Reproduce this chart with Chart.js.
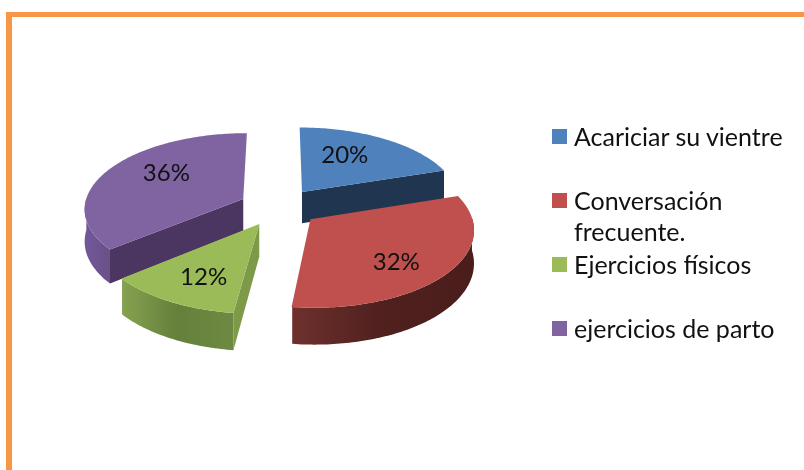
<!DOCTYPE html>
<html>
<head>
<meta charset="utf-8">
<style>
    body { margin: 0; background: #fff; font-family: Lato, sans-serif; }
    #wrap { position: relative; width: 804px; height: 470px; overflow: hidden; }
    #frame { position: absolute; left: 6px; top: 12px; right: -10px; bottom: -10px; border-top: 5px solid #F79646; border-left: 6px solid #F79646; }
    canvas { position: absolute; left: 0; top: 0; }
    .key { position: absolute; left: 552px; width: 15px; height: 15px; }
    .txt { position: absolute; left: 574px; font-size: 25px; line-height: 31px; color: #111; white-space: pre; }
</style>
<script src="https://cdn.jsdelivr.net/npm/chart.js@4"></script>
</head>
<body>
<div id="wrap">
    <div id="frame"></div>
    <canvas id="pie" width="804" height="470"></canvas>
    <div id="legend"></div>
</div>
<script>
// ---- Data ----
const categories = ['Acariciar su vientre', 'Conversación\nfrecuente.', 'Ejercicios físicos', 'ejercicios de parto'];
const percents = [20, 32, 12, 36];

// ---- Colours ----
const topColors = ['#4F81BD', '#C0504D', '#9BBB59', '#8064A2'];
const faceColors = ['#1F3550', '#4D1F1D', '#7C9A48', '#4A3660'];
const wallStops = [
    ['#2A4363', '#2A4363'],
    ['#6E302D', '#4F201E', '#4A1D1B'],
    ['#86A24F', '#64803A', '#6E8A42'],
    ['#72589A', '#6A5088']
];
const legendTops = [129, 193, 257, 321];

// ---- 3D look ----
const explode = 40;
const squash = 0.473;
const perspective = 0.115;
const depth = 32;
const drawOrder = [0, 3, 2, 1];
const labelShift = [[-8, -4], [6, 12], [-4, 9], [5, -8]];

function project(arc, gx, gy, drop) {
    const s = 1 / (1 - perspective * gy / arc.outerRadius);
    return { x: arc.x + gx * s, y: arc.y + gy * squash * s + (drop || 0) * s };
}

function tracePoly(ctx, pts) {
    ctx.beginPath();
    pts.forEach((p, i) => i ? ctx.lineTo(p.x, p.y) : ctx.moveTo(p.x, p.y));
    ctx.closePath();
}

function drawSlice(ctx, arc, i) {
    const mid = (arc.startAngle + arc.endAngle) / 2;
    const ax = Math.cos(mid) * explode;
    const ay = Math.sin(mid) * explode;
    const r = arc.outerRadius;
    const rim = (a, drop) => project(arc, ax + Math.cos(a) * r, ay + Math.sin(a) * r, drop);
    const apex = drop => project(arc, ax, ay, drop);

    // cut faces that look at the viewer
    [[arc.startAngle, -1], [arc.endAngle, 1]].forEach(([a, side]) => {
        if (Math.cos(a) * side > 0.001) {
            tracePoly(ctx, [apex(0), rim(a, 0), rim(a, depth), apex(depth)]);
            ctx.fillStyle = faceColors[i];
            ctx.fill();
        }
    });

    // outer wall, only the front half of the rim
    const upper = [], lower = [];
    for (let a = arc.startAngle; a <= arc.endAngle + 0.0001; a += Math.PI / 180) {
        if (Math.sin(a) >= -0.02) {
            upper.push(rim(a, 0));
            lower.unshift(rim(a, depth));
        }
    }
    if (upper.length > 1) {
        const xs = upper.map(p => p.x);
        const grad = ctx.createLinearGradient(Math.min(...xs), 0, Math.max(...xs), 0);
        wallStops[i].forEach((c, n) => grad.addColorStop(n / (wallStops[i].length - 1), c));
        tracePoly(ctx, upper.concat(lower));
        ctx.fillStyle = grad;
        ctx.fill();
    }

    // top surface
    const top = [apex(0)];
    for (let a = arc.startAngle; a < arc.endAngle; a += Math.PI / 180) top.push(rim(a, 0));
    top.push(rim(arc.endAngle, 0));
    tracePoly(ctx, top);
    ctx.fillStyle = topColors[i];
    ctx.fill();
}

// ---- Plugin: the library computes the arcs, this paints them in 3D ----
const pie3d = {
    id: 'pie3d',
    beforeDatasetsDraw(chart) {
        const ctx = chart.ctx;
        const arcs = chart.getDatasetMeta(0).data;
        ctx.save();
        drawOrder.forEach(i => drawSlice(ctx, arcs[i], i));

        ctx.fillStyle = '#111';
        ctx.font = '24px Lato';
        ctx.textAlign = 'center';
        ctx.textBaseline = 'middle';
        arcs.forEach((arc, i) => {
            const mid = (arc.startAngle + arc.endAngle) / 2;
            const gr = explode + arc.outerRadius * 0.6;
            const p = project(arc, Math.cos(mid) * gr, Math.sin(mid) * gr, 0);
            ctx.fillText(percents[i] + '%', p.x + labelShift[i][0], p.y + labelShift[i][1]);
        });
        ctx.restore();
        return false;
    }
};

// ---- Chart ----
new Chart(document.getElementById('pie'), {
    type: 'pie',
    data: {
        labels: categories,
        datasets: [{ data: percents, backgroundColor: topColors, borderWidth: 0 }]
    },
    options: {
        responsive: false,
        animation: false,
        devicePixelRatio: 1,
        layout: { padding: { left: 120, right: 366, top: 48, bottom: 104 } },
        plugins: { legend: { display: false }, tooltip: { enabled: false } }
    },
    plugins: [pie3d]
});

// ---- Legend ----
document.getElementById('legend').innerHTML = categories.map((name, i) => `
    <div class="key" style="top:${legendTops[i]}px;background:${topColors[i]}"></div>
    <div class="txt" style="top:${legendTops[i] - 8}px">${name}</div>
`).join('');
</script>
</body>
</html>
